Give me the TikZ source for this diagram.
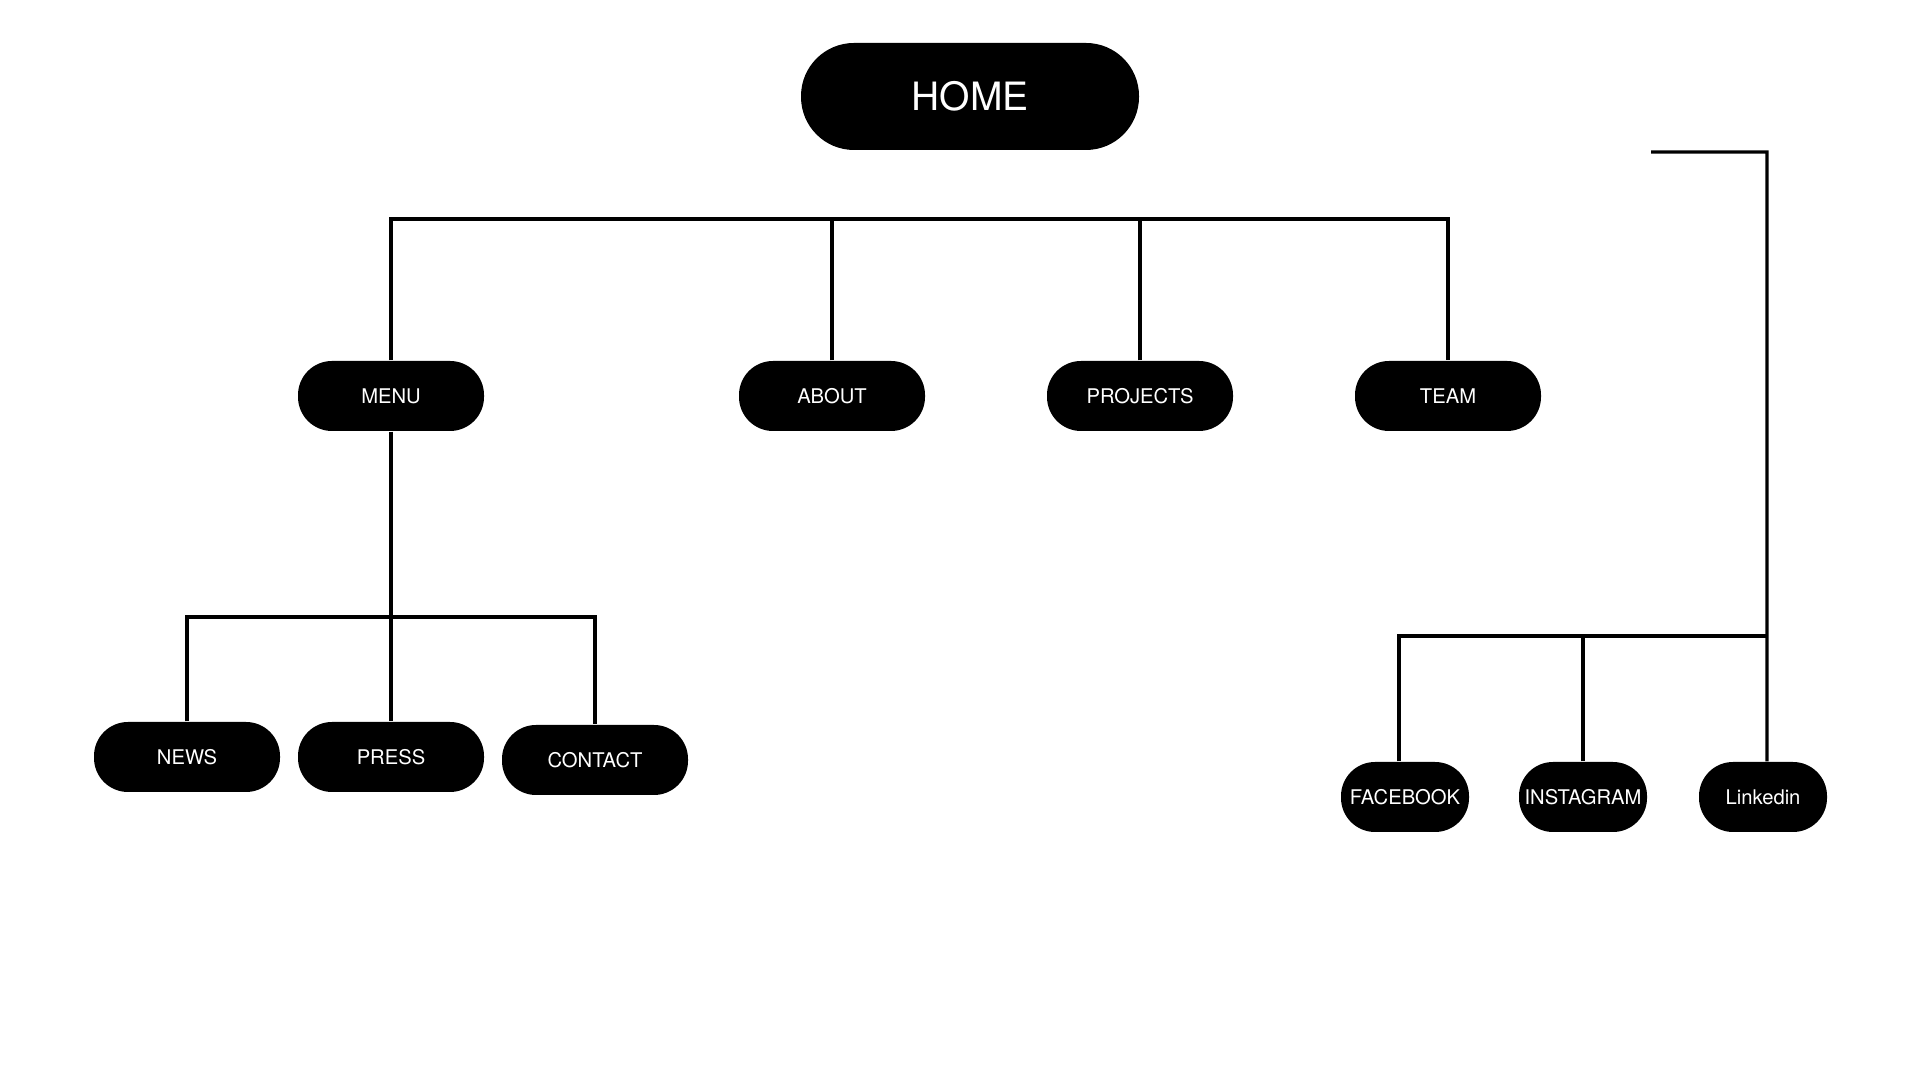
\documentclass[tikz,border=0pt]{standalone}
\usepackage{fontspec}
\setmainfont{TeX Gyre Heros}
\begin{document}
\begin{tikzpicture}[
		page/.style={rectangle, rounded corners=0.34cm, fill=black, text=white, minimum width=1.86cm, minimum height=0.70cm, inner sep=0pt, font=\fontsize{5.75}{7}\selectfont},
		social/.style={page, minimum width=1.28cm},
		link/.style={line width=0.9pt}]
		\useasboundingbox (0,0) rectangle (19.2,10.8);
		
		\node[page, minimum width=3.38cm, minimum height=1.07cm, rounded corners=0.53cm, font=\fontsize{11.1}{13}\selectfont] (home) at (9.70,9.835) {HOME};
		
		\node[page] (menu) at (3.91,6.84) {MENU};
		\node[page] (about) at (8.32,6.84) {ABOUT};
		\node[page] (projects) at (11.40,6.84) {PROJECTS};
		\node[page] (team) at (14.48,6.84) {TEAM};
		
		\node[page] (news) at (1.87,3.23) {NEWS};
		\node[page] (press) at (3.91,3.23) {PRESS};
		\node[page] (contact) at (5.95,3.20) {CONTACT};
		
		\node[social] (facebook) at (14.05,2.83) {FACEBOOK};
		\node[social] (instagram) at (15.83,2.83) {INSTAGRAM};
		\node[social] (linkedin) at (17.63,2.83) {Linkedin};
		
		\coordinate (bus) at (0,8.61);
		\coordinate (lbus) at (0,4.63);
		\coordinate (rbus) at (17.67,4.44);
		\coordinate (socialtop) at (16.51,9.28);
		
		\draw[link] (menu.north) -- (menu |- bus) -| (team.north);
		\foreach \n in {about,projects}
		\draw[link] (\n.north) -- (\n |- bus);
		
		\draw[link] (menu.south) -- (press.north);
		\draw[link] (news.north) |- (contact.north |- lbus) -- (contact.north);
		
		\draw[link] (socialtop) -| (rbus) -- ([xshift=0.04cm]linkedin.north);
		\draw[link] ([xshift=-0.06cm]facebook.north) |- (rbus);
		\draw[link] (instagram.north) -- (instagram |- rbus);
		\end{tikzpicture}
\end{document}
